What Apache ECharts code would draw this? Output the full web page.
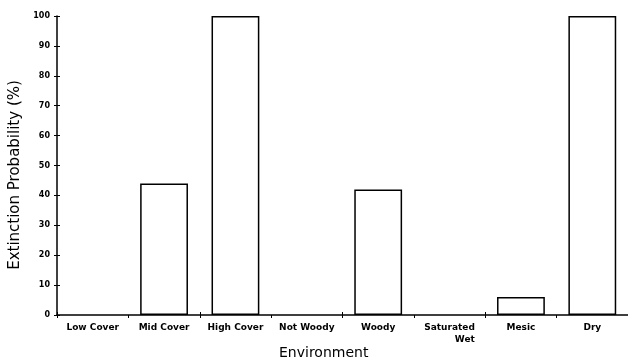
<!DOCTYPE html>
<html><head><meta charset="utf-8">
<script src="https://cdn.jsdelivr.net/npm/echarts@6/dist/echarts.min.js"></script>
<style>html,body{margin:0;padding:0;background:#fff}#c{width:628px;height:362px}</style>
</head><body><div id="c"></div>
<script>
var categories = ['Low Cover','Mid Cover','High Cover','Not Woody','Woody','Saturated\nWet','Mesic','Dry'];
var values = [0, 44, 100, 0, 42, 0, 6, 100];
var yTicks = {min: 0, max: 100, interval: 10};
var yTitle = 'Extinction Probability (%)';
var xTitle = 'Environment';

var chart = echarts.init(document.getElementById('c'), null, {renderer: 'canvas'});
var lbl = {fontFamily: 'DejaVu Sans', fontWeight: 'bold', fontSize: 9, color: '#000', lineHeight: 12};
var barData = values.map(function (v) {
  return {value: v, itemStyle: {borderWidth: v === 0 ? 0 : 1.5}};
});
chart.setOption({
  animation: false,
  backgroundColor: '#fff',
  title: {text: xTitle, left: 274, top: 341,
    textStyle: {fontFamily: 'DejaVu Sans', fontWeight: 'normal', fontSize: 14, color: '#000'}},
  graphic: [{
    type: 'text', x: 15, y: 175, rotation: Math.PI / 2,
    style: {text: yTitle, fontFamily: 'DejaVu Sans', fontSize: 15, fill: '#000', align: 'center', verticalAlign: 'middle'}
  }],
  grid: {left: 57, top: 16, width: 577, bottom: 47, containLabel: false},
  xAxis: [{
    type: 'category', data: categories, position: 'bottom',
    axisLine: {lineStyle: {color: '#000', width: 1.5}},
    axisTick: {show: true, length: 3, lineStyle: {color: '#000', width: 1}},
    axisLabel: {interval: 0, margin: 7,
      fontFamily: 'DejaVu Sans', fontWeight: 'bold', fontSize: 9, color: '#000',
      formatter: function (v) {
        if (v.indexOf('\n') >= 0) { var p = v.split('\n'); return '{a|' + p[0] + '}\n{b|' + p[1] + '}'; }
        return '{a|' + v + '}';
      },
      rich: {a: Object.assign({align: 'center'}, lbl), b: Object.assign({align: 'right'}, lbl)}
    },
    splitLine: {show: false}
  }, {
    type: 'category', data: categories, position: 'bottom',
    axisLine: {show: false},
    axisTick: {show: true, inside: true, length: 3, lineStyle: {color: '#000', width: 1}},
    axisLabel: {show: false}, splitLine: {show: false}
  }],
  yAxis: [{
    type: 'value', min: yTicks.min, max: yTicks.max, interval: yTicks.interval,
    axisLine: {show: true, lineStyle: {color: '#000', width: 1.5}},
    axisTick: {show: true, length: 3, lineStyle: {color: '#000', width: 1}},
    axisLabel: {margin: 7, fontFamily: 'DejaVu Sans', fontWeight: 'bold', fontSize: 8, color: '#000'},
    splitLine: {show: false}
  }, {
    type: 'value', min: yTicks.min, max: yTicks.max, interval: yTicks.interval, position: 'left',
    axisLine: {show: false},
    axisTick: {show: true, inside: true, length: 3, lineStyle: {color: '#000', width: 1}},
    axisLabel: {show: false}, splitLine: {show: false}
  }],
  series: [{
    type: 'bar', data: barData, barWidth: '67%', xAxisIndex: 0, yAxisIndex: 0,
    itemStyle: {color: '#fff', borderColor: '#000', borderWidth: 1.5}
  }]
});
</script></body></html>
